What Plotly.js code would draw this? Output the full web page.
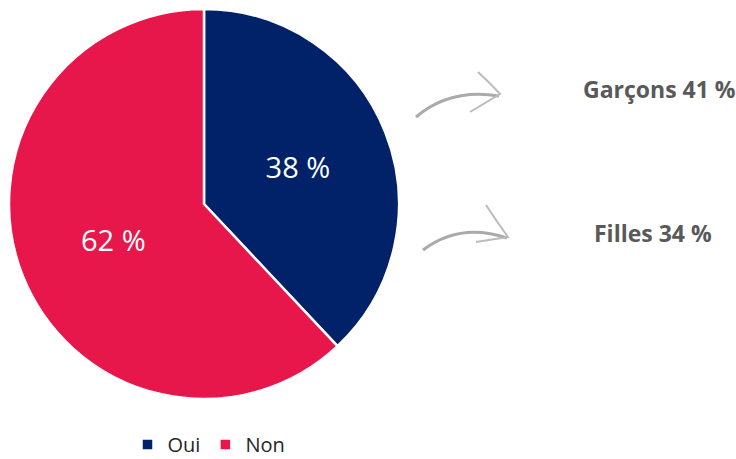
<!DOCTYPE html>
<html>
<head>
<meta charset="utf-8">
<script src="https://cdn.plot.ly/plotly-3.0.1.min.js"></script>
<style>html,body{margin:0;padding:0;background:#fff;overflow:hidden;}#chart{width:736px;height:464px;}</style>
</head>
<body>
<div id="chart"></div>
<script>
const categories = ['Oui', 'Non'];
const values = [38, 62];
const colors = ['#012169', '#E8174B'];
const groupLabels = ['Garçons', 'Filles'];
const groupValues = [41, 34];

const W = 736, H = 464;
const trace = {
  type: 'pie',
  labels: categories,
  values: values,
  sort: false,
  direction: 'clockwise',
  rotation: 0,
  marker: {colors: colors, line: {color: '#ffffff', width: 2.5}},
  texttemplate: '%{value} %',
  textinfo: 'text',
  textposition: 'inside',
  insidetextorientation: 'horizontal',
  insidetextfont: {color: '#ffffff', size: 29, family: 'Open Sans'},
  hoverinfo: 'label+value',
  domain: {x: [9 / W, 399 / W], y: [1 - 399 / H, 1 - 9 / H]}
};

const annPos = [{x: 659, y: 89}, {x: 653, y: 233}];
const annotations = groupLabels.map((g, i) => ({
  xref: 'paper', yref: 'paper',
  x: annPos[i].x / W, y: 1 - annPos[i].y / H,
  xanchor: 'center', yanchor: 'middle',
  showarrow: false,
  text: '<b>' + g + ' ' + groupValues[i] + ' %</b>',
  font: {family: 'Open Sans', size: 23, color: '#595959'}
}));

function px(x) { return x / W; }
function py(y) { return 1 - y / H; }
const arrowStyle = {color: '#aaaaaa', width: 3};
const shapes = [
  {type: 'path', xref: 'paper', yref: 'paper', line: arrowStyle,
   path: `M ${px(416)} ${py(117)} Q ${px(450)} ${py(88)} ${px(499)} ${py(96)}`},
  {type: 'path', xref: 'paper', yref: 'paper', line: {color: '#bbbbbb', width: 2},
   path: `M ${px(478)} ${py(72)} Q ${px(492)} ${py(85)} ${px(500)} ${py(94)} L ${px(470)} ${py(112)}`},
  {type: 'path', xref: 'paper', yref: 'paper', line: arrowStyle,
   path: `M ${px(423)} ${py(250)} Q ${px(460)} ${py(222)} ${px(507)} ${py(238)}`},
  {type: 'path', xref: 'paper', yref: 'paper', line: {color: '#bbbbbb', width: 2},
   path: `M ${px(486)} ${py(205)} Q ${px(497)} ${py(222)} ${px(508)} ${py(237)} L ${px(476)} ${py(242)}`}
];

const layout = {
  width: W, height: H,
  margin: {l: 0, r: 0, t: 0, b: 0},
  paper_bgcolor: '#ffffff',
  font: {family: 'Open Sans', color: '#333333'},
  showlegend: true,
  legend: {
    orientation: 'h', x: 209 / W, xanchor: 'center', y: 0, yanchor: 'bottom',
    font: {size: 20, color: '#262626', family: 'Open Sans'},
    itemwidth: 30, traceorder: 'normal'
  },
  annotations: annotations,
  shapes: shapes
};

Plotly.newPlot('chart', [trace], layout, {staticPlot: true, displayModeBar: false});
</script>
</body>
</html>
